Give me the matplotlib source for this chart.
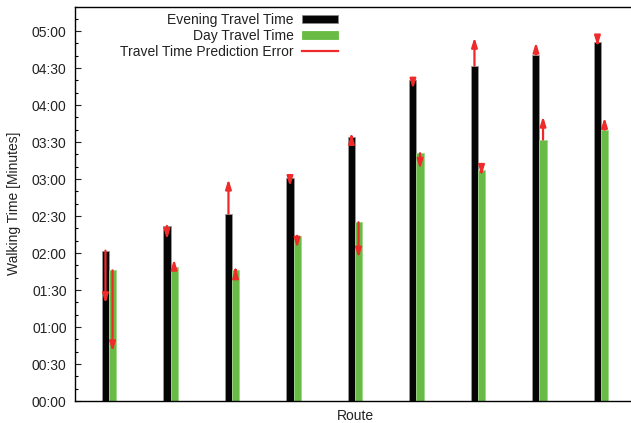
#!/usr/bin/env python3

import numpy as np
import matplotlib
matplotlib.use('Agg')
import matplotlib.pyplot as plt
from matplotlib.ticker import MultipleLocator, FuncFormatter
from matplotlib.lines import Line2D
from matplotlib.patches import Patch

plt.rcParams['font.family'] = ['Liberation Sans', 'DejaVu Sans']

# walking times per route, in seconds
routes = list(range(1, 10))
evening = [122, 142, 152, 181, 214, 260, 272, 281, 291]
day = [106, 109, 106, 134, 145, 201, 187, 212, 220]
# predicted times (arrow tips)
evening_pred = [79, 131, 180, 174, 217, 253, 295, 291, 288]
day_pred = [40, 115, 108, 124, 116, 188, 183, 231, 230]

BLACK = '#050505'
GREEN = '#68bc45'
RED = '#ee2a2a'


def mmss(v, pos):
    v = int(round(v))
    return '%02d:%02d' % (v // 60, v % 60)


def plot():
    fig = plt.figure(figsize=(6.31, 4.23), dpi=100)
    ax = fig.add_axes([75 / 631, 22 / 423, 560 / 631, 394.5 / 423])

    x = np.arange(len(routes))
    w = 0.115
    ax.bar(x - w / 2, evening, width=w, color=BLACK, edgecolor='#999999',
           linewidth=0.6, zorder=2)
    ax.bar(x + w / 2, day, width=w, color=GREEN, edgecolor='#9fd88a',
           linewidth=0.6, zorder=2)

    arrow = dict(arrowstyle='-|>,head_length=0.55,head_width=0.17',
                 color=RED, lw=1.6, mutation_scale=10,
                 shrinkA=0, shrinkB=0)
    for i in range(len(routes)):
        ax.annotate('', xy=(x[i] - w / 2, evening_pred[i]),
                    xytext=(x[i] - w / 2, evening[i]),
                    arrowprops=arrow, zorder=3)
        ax.annotate('', xy=(x[i] + w / 2, day_pred[i]),
                    xytext=(x[i] + w / 2, day[i]),
                    arrowprops=arrow, zorder=3)

    ax.set_xlim(-0.553, 8.553)
    ax.set_ylim(0, 320)
    ax.yaxis.set_major_locator(MultipleLocator(30))
    ax.yaxis.set_minor_locator(MultipleLocator(10))
    ax.yaxis.set_major_formatter(FuncFormatter(mmss))
    ax.set_xticks([])
    ax.tick_params(axis='y', which='major', direction='in', length=4,
                   width=0.8, labelsize=10, colors='#222222', pad=6)
    ax.tick_params(axis='y', which='minor', direction='in', length=2.5,
                   width=0.8)
    ax.tick_params(axis='y', labelcolor='#222222')
    ax.spines['right'].set_visible(False)
    for s in ('left', 'top', 'bottom'):
        ax.spines[s].set_linewidth(1.0)

    ax.set_ylabel('Walking Time [Minutes]', fontsize=10, color='#222222',
                  labelpad=8)
    ax.set_xlabel('Route', fontsize=10, color='#222222', labelpad=6)

    handles = [
        Patch(facecolor=BLACK, edgecolor='#888888', linewidth=0.6),
        Patch(facecolor=GREEN, edgecolor=GREEN, linewidth=0.6),
        Line2D([0], [0], color=RED, lw=1.6),
    ]
    labels = ['Evening Travel Time', 'Day Travel Time',
              'Travel Time Prediction Error']
    leg = ax.legend(handles, labels, loc='upper left',
                    bbox_to_anchor=(0.066, 1.005), markerfirst=False,
                    frameon=False, fontsize=10, handlelength=2.6,
                    handleheight=0.6, handletextpad=0.6,
                    labelspacing=0.15, borderaxespad=0.2)
    for t in leg.get_texts():
        t.set_color('#222222')

    fig.savefig('out.png', dpi=100)


if __name__ == '__main__':
    plot()
